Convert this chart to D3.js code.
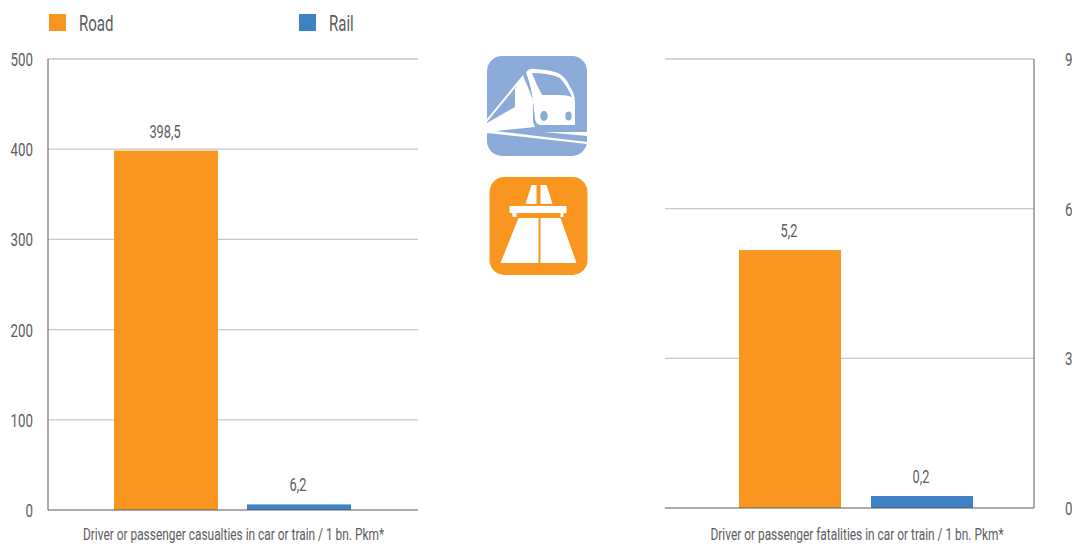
<!DOCTYPE html>
<html><head><meta charset="utf-8">
<script src="https://cdn.jsdelivr.net/npm/d3@7/dist/d3.min.js"></script>
<style>
html,body{margin:0;padding:0;background:#fff}
svg{display:block}
text{font-family:"Roboto",sans-serif;fill:#5b5c5e;font-weight:400}
</style></head><body>
<svg id="c" width="1072" height="544"></svg>
<script>
const modes = ["Road", "Rail"];
const modeColors = ["#f9961f", "#3e82c4"];
const casualties = [398.5, 6.2];
const casualtyLabels = ["398,5", "6,2"];
const fatalities = [5.17, 0.24];
const fatalityLabels = ["5,2", "0,2"];
const casualtyTicks = [0, 100, 200, 300, 400, 500];
const fatalityTicks = [0, 3, 6, 9];
const titleLeft = "Driver or passenger casualties in car or train / 1 bn. Pkm*";
const titleRight = "Driver or passenger fatalities in car or train / 1 bn. Pkm*";

const svg = d3.select("#c");
const place = (x, y, s) => `translate(${x},${y}) scale(${s},1)`;

function panel(o) {
  const y = d3.scaleLinear().domain(o.domain).range([o.y0, o.y1]);
  const x = d3.scaleOrdinal().domain(modes).range(o.barX);
  const g = svg.append("g");
  g.selectAll("line.grid").data(o.ticks.filter(t => t > 0)).join("line")
    .attr("class", "grid")
    .attr("x1", o.x0).attr("x2", o.x1)
    .attr("y1", d => y(d)).attr("y2", d => y(d))
    .attr("stroke", "#c6c8ca").attr("stroke-width", 1.3);
  g.selectAll("rect").data(modes).join("rect")
    .attr("x", d => x(d)).attr("width", o.barW)
    .attr("y", (d, i) => y(o.values[i]))
    .attr("height", (d, i) => y(0) - y(o.values[i]))
    .attr("fill", (d, i) => modeColors[i]);
  const axisX = o.side === "left" ? o.x0 : o.x1;
  g.append("line").attr("x1", axisX).attr("x2", axisX).attr("y1", y(o.domain[1])).attr("y2", y(0))
    .attr("stroke", "#58595b").attr("stroke-width", 1);
  g.append("line").attr("x1", o.x0).attr("x2", o.x1).attr("y1", y(0)).attr("y2", y(0))
    .attr("stroke", "#58595b").attr("stroke-width", 1);
  g.selectAll("text.tick").data(o.ticks).join("text")
    .attr("class", "tick")
    .attr("transform", d => place(o.tickX, y(d) + 7, 0.74))
    .attr("text-anchor", o.side === "left" ? "end" : "start")
    .attr("font-size", 18).text(d => d);
  g.selectAll("text.val").data(modes).join("text")
    .attr("class", "val")
    .attr("transform", (d, i) => place(x(d) + o.barW / 2 - 1, y(o.values[i]) - 13, 0.73))
    .attr("text-anchor", "middle").attr("font-size", 17.5)
    .text((d, i) => o.labels[i]);
  g.append("text").attr("transform", place(o.titleX, 540, 0.73))
    .attr("text-anchor", "middle").attr("font-size", 16.3).text(o.title);
}

panel({side: "left", x0: 48, x1: 418, y0: 510, y1: 59, domain: [0, 500], ticks: casualtyTicks,
  values: casualties, labels: casualtyLabels, barX: [114, 247], barW: 104, tickX: 33,
  title: titleLeft, titleX: 233.5});
panel({side: "right", x0: 665, x1: 1034, y0: 508, y1: 59, domain: [0, 9], ticks: fatalityTicks,
  values: fatalities, labels: fatalityLabels, barX: [739, 871], barW: 102, tickX: 1065,
  title: titleRight, titleX: 857});

// Legend
const legend = svg.append("g");
const legendX = d3.scaleOrdinal().domain(modes).range([49, 299]);
legend.selectAll("rect").data(modes).join("rect")
  .attr("x", d => legendX(d)).attr("y", 14).attr("width", 17).attr("height", 17)
  .attr("fill", (d, i) => modeColors[i]);
legend.selectAll("text").data(modes).join("text")
  .attr("transform", d => place(legendX(d) + 30, 30.5, 0.7))
  .attr("font-size", 21.5).text(d => d);

// Train icon
const train = svg.append("g").attr("transform", "translate(487,56)");
train.append("rect").attr("width", 100).attr("height", 100).attr("rx", 15).attr("fill", "#8aaad8");
train.append("path").attr("fill", "#fff").attr("d",
  "M0,63 L36,19 L37,21 L0,66 Z" +
  "M28,33 L36,20 L41,31 L46,44 L46,66 L48,71 L0,76 L0,67 L28,51 Z" +
  "M39,17 Q41,12 48,13 Q66,14 73,18 Q80,23 83,31 Q88,38 88,46 L88,69 L53,69 Q49,68 48,64 L46,46 Q44,30 39,17 Z");
train.append("path").attr("fill", "#8aaad8").attr("d",
  "M45,17 Q62,17 73,22 Q80,30 85,41 Q80,39 73,39 L55,39 Q49,28 45,17 Z");
train.append("path").attr("fill", "#8aaad8").attr("d",
  "M37,20 L39,17 Q44,30 46,46 L48,64 Q49,68 53,70 L50,71 L46,66 L46,44 Z");
train.append("ellipse").attr("cx", 57).attr("cy", 60).attr("rx", 3.8).attr("ry", 5).attr("fill", "#8aaad8");
train.append("ellipse").attr("cx", 81.5).attr("cy", 60).attr("rx", 3.2).attr("ry", 4.5).attr("fill", "#8aaad8");
train.append("path").attr("fill", "#fff").attr("d",
  "M56,76 L100,76 L100,80 Z M0,74 L100,86 L100,88 L0,77 Z");

// Road icon
const road = svg.append("g").attr("transform", "translate(489.5,177)");
road.append("rect").attr("width", 98).attr("height", 98).attr("rx", 15).attr("fill", "#f9961f");
road.append("path").attr("fill", "#fff").attr("d",
  "M42,8 L47,8 L47,27 L36,27 Z M51,8 L57,8 L63,27 L51,27 Z" +
  "M20,29 L77,29 L77,36 L74,36 L74,40 L71,40 L71,36 L27,36 L27,40 L23,40 L23,36 L20,36 Z" +
  "M29,41 L49,41 L49,86 L11,86 Z M51,41 L71,41 L87,86 L51,86 Z");
</script>
</body></html>
